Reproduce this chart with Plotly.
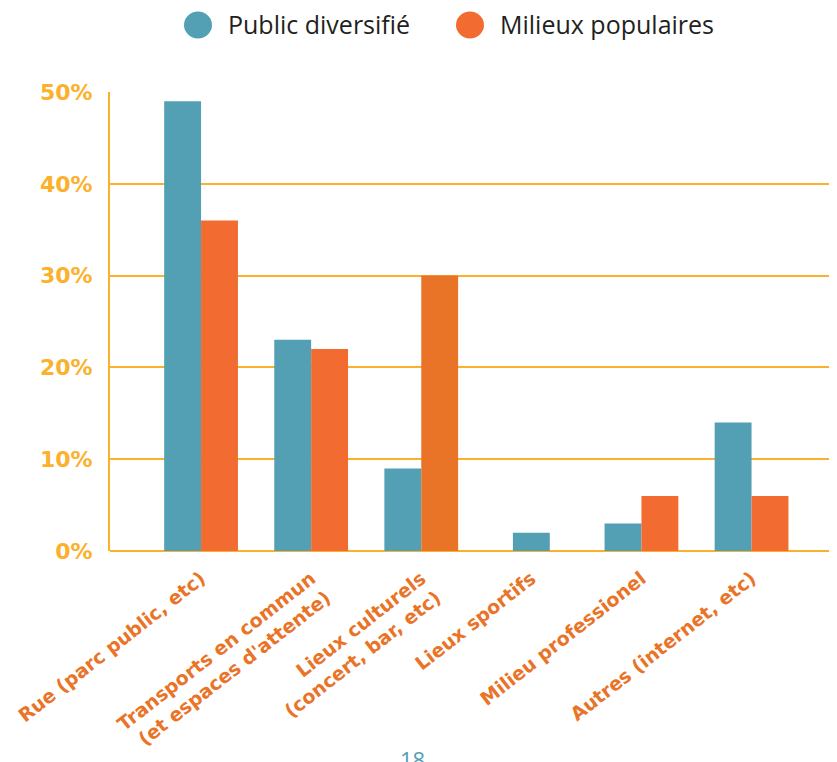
import plotly.graph_objects as go

categories = [
    "Rue (parc public, etc)",
    "Transports en commun<br>(et espaces d'attente)",
    "Lieux culturels<br>(concert, bar, etc)",
    "Lieux sportifs",
    "Milieu professionel",
    "Autres (internet, etc)",
]
public_diversifie = [49, 23, 9, 2, 3, 14]
milieux_populaires = [36, 22, 30, 0, 6, 6]
y_ticks = [0, 10, 20, 30, 40, 50]
series_names = ["Public diversifié", "Milieux populaires"]

BLUE = "#539FB4"
ORANGE = "#F26B30"
ORANGE_DARK = "#E97428"
GRID = "#FBB12B"
W = 0.335

# the page body adds an 8px offset; figure sized to fit the window
OFF = 8
W_PX, H_PX = 837 - OFF, 762 - OFF
ML, MR, MT = 110 - OFF, 0, 92 - OFF
PH = 459
MB = H_PX - MT - PH
PW = W_PX - ML - MR

def px_x(p):
    return (p - OFF - ML) / PW

def px_y(p):
    return (H_PX - MB - (p - OFF)) / PH

blue_offsets = [(-W / 2 if v == 0 else -W) for v in milieux_populaires]
orange_colors = [ORANGE_DARK if i == 2 else ORANGE for i in range(len(categories))]

fig = go.Figure()
fig.add_trace(go.Bar(x=categories, y=public_diversifie, name=series_names[0],
                     marker=dict(color=BLUE, line=dict(width=0)),
                     width=W, offset=blue_offsets, showlegend=False))
fig.add_trace(go.Bar(x=categories, y=milieux_populaires, name=series_names[1],
                     marker=dict(color=orange_colors, line=dict(width=0)),
                     width=W, offset=0, showlegend=False))

# legend drawn manually (large circles)
legend_items = [(series_names[0], BLUE, 198, 226), (series_names[1], ORANGE, 470, 498)]
for name, col, cx, tx in legend_items:
    fig.add_shape(type="circle", xref="paper", yref="paper",
                  xsizemode="pixel", ysizemode="pixel",
                  xanchor=px_x(cx), yanchor=px_y(25),
                  x0=-14, x1=14, y0=-13.5, y1=13.5,
                  fillcolor=col, line=dict(width=0))
    fig.add_annotation(text=name, xref="paper", yref="paper",
                       x=px_x(tx), y=px_y(24), xanchor="left", yanchor="middle",
                       showarrow=False,
                       font=dict(family="Open Sans", size=25, color="#231F20"))

fig.add_annotation(text="18", xref="paper", yref="paper",
                   x=px_x(412), y=px_y(742), xanchor="center", yanchor="top",
                   showarrow=False,
                   font=dict(family="Open Sans", size=22, color="#4E9DB5"))

fig.update_layout(
    width=W_PX, height=H_PX,
    margin=dict(l=ML, r=MR, t=MT, b=MB, autoexpand=False),
    plot_bgcolor="white", paper_bgcolor="white",
    barmode="overlay",
    showlegend=False,
)
fig.update_xaxes(
    range=[-0.827, -0.827 + PW / 110.1],
    tickangle=-38, automargin=False,
    tickfont=dict(family="DejaVu Sans", size=19, color=ORANGE_DARK, weight="bold"),
    showgrid=False, showline=False, zeroline=False, ticks="",
    ticklabelstandoff=12,
)
fig.update_yaxes(
    range=[0, 50], automargin=False,
    tickvals=y_ticks,
    ticktext=[f"{v}%" for v in y_ticks],
    tickfont=dict(family="DejaVu Sans", size=22, color=GRID, weight="bold"),
    showgrid=True, gridcolor=GRID, gridwidth=2,
    showline=True, linecolor=GRID, linewidth=2,
    zeroline=True, zerolinecolor=GRID, zerolinewidth=2,
    ticks="", ticklabelstandoff=11,
)

fig.write_html("out.html")
